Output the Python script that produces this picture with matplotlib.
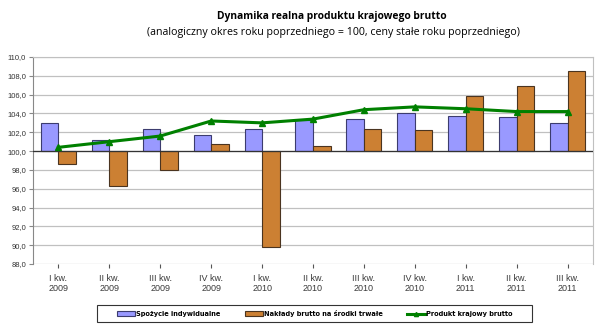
import matplotlib
matplotlib.use("Agg")
import matplotlib.pyplot as plt
import numpy as np
from matplotlib.lines import Line2D
from matplotlib.patches import Patch, Rectangle

categories = ["I kw.\n2009", "II kw.\n2009", "III kw.\n2009", "IV kw.\n2009",
              "I kw.\n2010", "II kw.\n2010", "III kw.\n2010", "IV kw.\n2010",
              "I kw.\n2011", "II kw.\n2011", "III kw.\n2011"]
spozycie = [103.0, 101.2, 102.3, 101.7, 102.3, 103.3, 103.4, 104.0, 103.7, 103.6, 103.0]
naklady = [98.6, 96.3, 98.0, 100.8, 89.8, 100.5, 102.3, 102.2, 105.9, 106.9, 108.5]
pkb = [100.4, 101.0, 101.6, 103.2, 103.0, 103.4, 104.4, 104.7, 104.5, 104.2, 104.2]
yticks = np.arange(88.0, 110.01, 2.0)
base = 100.0

W, H = 600, 335
fig = plt.figure(figsize=(W/100, H/100), dpi=100)
ax = fig.add_axes([33/W, 1 - 264/H, (593-33)/W, (264-57)/H])

x = np.arange(len(categories))
w = 0.345
ax.bar(x - w/2, np.array(spozycie) - base, w, bottom=base, color="#9999ff",
       edgecolor="#3c3c6e", linewidth=0.8, zorder=3)
ax.bar(x + w/2, np.array(naklady) - base, w, bottom=base, color="#cc8033",
       edgecolor="#4a3420", linewidth=0.8, zorder=3)
ax.plot(x, pkb, color="#008000", linewidth=2.2, marker="^", markersize=4,
        zorder=4)

ax.set_xlim(-0.5, len(categories) - 0.5)
ax.set_ylim(88, 110)
ax.set_yticks(yticks)
ax.set_yticklabels([f"{v:.1f}".replace(".", ",") for v in yticks],
                   fontsize=5.5, family="Liberation Sans", color="#333333")
ax.set_xticks(x)
ax.set_xticklabels([])
ax.tick_params(axis="x", length=3, color="#555555")
ax.tick_params(axis="y", length=3, color="#888888", pad=2)
ax.grid(axis="y", color="#c0c0c0", linewidth=0.9, zorder=0)
ax.axhline(base, color="#333333", linewidth=0.9, zorder=3.5)
for s in ["top", "right"]:
    ax.spines[s].set_color("#c0c0c0")
ax.spines["left"].set_color("#888888")
ax.spines["bottom"].set_visible(False)

for i, c in enumerate(categories):
    ax.text(i, 86.9, c, ha="center", va="top", fontsize=6.5,
            family="Liberation Sans", color="#3a3a3a", linespacing=1.1)

fig.text(332/W, 1 - 16/H, "Dynamika realna produktu krajowego brutto",
         ha="center", va="center", fontsize=7.4, fontweight="bold",
         family="Open Sans")
fig.text(333/W, 1 - 32/H,
         "(analogiczny okres roku poprzedniego = 100, ceny stałe roku poprzedniego)",
         ha="center", va="center", fontsize=7.7, family="Open Sans")

handles = [Patch(facecolor="#9999ff", edgecolor="#3c3c6e", linewidth=0.8),
           Patch(facecolor="#cc8033", edgecolor="#4a3420", linewidth=0.8),
           Line2D([0], [0], color="#008000", linewidth=2.2, marker="^", markersize=3)]
labels = ["Spożycie indywidualne", "Nakłady brutto na środki trwałe",
          "Produkt krajowy brutto"]
leg = fig.legend(handles, labels, loc="center", bbox_to_anchor=(315/W, 1 - 313.5/H),
                 ncol=3, frameon=False,
                 prop={"size": 4.8, "weight": "bold", "family": "DejaVu Sans"},
                 handlelength=2.7, handleheight=0.75, columnspacing=3.6,
                 handletextpad=0.2, borderpad=0.3)
fig.patches.append(Rectangle((97/W, 1 - 322/H), (532-97)/W, (322-305)/H,
                             transform=fig.transFigure, fill=False,
                             edgecolor="#333333", linewidth=0.8))

fig.savefig("out.png", dpi=100)
